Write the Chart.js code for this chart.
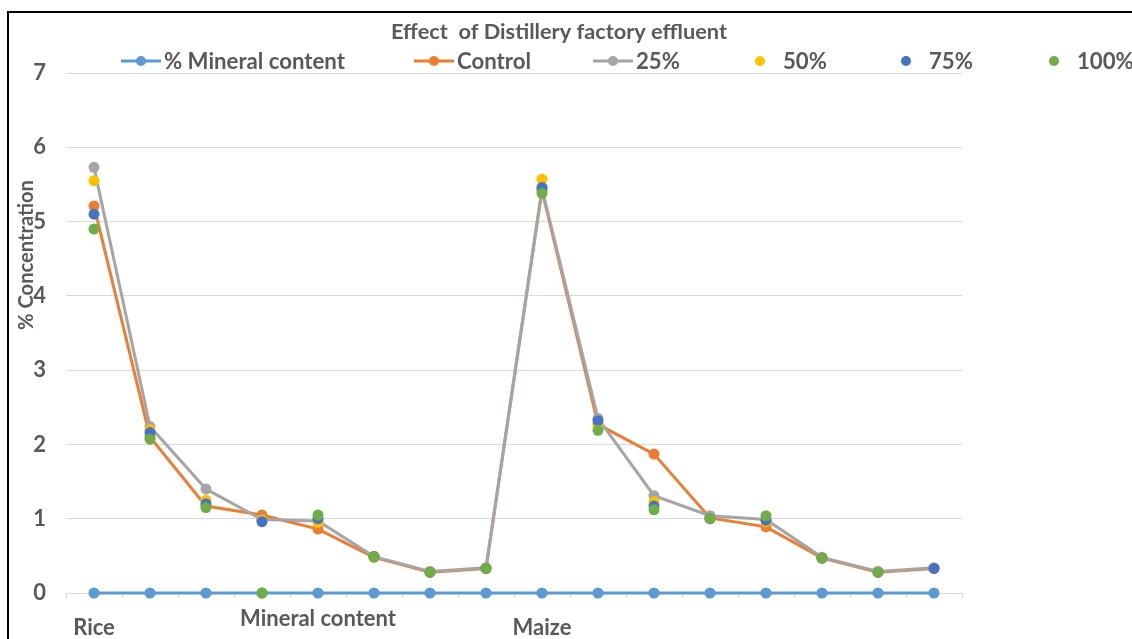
<!DOCTYPE html>
<html><head><meta charset="utf-8">
<script src="https://cdn.jsdelivr.net/npm/chart.js@4.4.1/dist/chart.umd.min.js"></script>
<style>
html,body{margin:0;padding:0;background:#fff;overflow:hidden;}
#wrap{position:relative;width:1132px;height:639px;overflow:hidden;}
#frame{position:absolute;left:7px;top:11px;width:1300px;height:800px;border-left:2px solid #000;border-top:2px solid #000;pointer-events:none;}
canvas{position:absolute;left:0;top:0;}
</style></head><body>
<div id="wrap"><canvas id="c" width="1132" height="639"></canvas><div id="frame"></div></div>
<script>
// ---------- data ----------
const categories = ['Rice','','','','Mineral content','','','','Maize','','','','','','',''];
const seriesNames = ['% Mineral content','Control','25%','50%','75%','100%'];
const mineralContent = [0,0,0,0,0,0,0,0,0,0,0,0,0,0,0,0];
const control = [5.21,2.10,1.17,1.05,0.86,0.48,0.28,0.33,5.42,2.27,1.87,1.01,0.89,0.47,0.28,0.33];
const pct25   = [5.73,2.24,1.40,0.99,0.97,0.49,0.29,0.34,5.44,2.35,1.31,1.04,0.99,0.48,0.29,0.34];
const pct50   = [5.55,2.20,1.25,0.98,0.95,0.49,0.28,0.33,5.57,2.25,1.23,1.00,0.96,0.47,0.28,null];
const pct75   = [5.10,2.16,1.20,0.96,1.00,0.49,0.28,0.33,5.46,2.32,1.17,1.00,0.98,0.47,0.28,0.33];
const pct100  = [4.90,2.07,1.15,0.00,1.05,0.49,0.28,0.33,5.38,2.19,1.12,1.00,1.04,0.47,0.28,null];
const yTickValues = [0,1,2,3,4,5,6,7];
const chartTitle = 'Effect  of Distillery factory effluent';
const yTitle = '% Concentration';
const raisedLabel = 'Mineral content';

// ---------- style ----------
const FONT = 'Lato, "Open Sans", sans-serif';
const TEXT = '#595959';
const GRID = '#d9d9d9';
const colors = ['#5B9BD5','#ED7D31','#A5A5A5','#FFC000','#4472C4','#70AD47'];
const withLine = [true,true,true,false,false,false];

const mctx = document.createElement('canvas').getContext('2d');
function fitSize(text, target){
  mctx.font = 'bold 100px ' + FONT;
  return 100 * target / mctx.measureText(text).width;
}
const axisSize = fitSize('Mineral content', 156);
const titleSize = fitSize(chartTitle, 336);
const legendSize = fitSize('% Mineral content', 181);
const yTitleSize = fitSize(yTitle, 150);

const legendCenters = [141, 434, 613, 760, 906, 1054];

const overlay = {
  id: 'overlay',
  afterDraw(chart){
    const ctx = chart.ctx;
    ctx.save();
    ctx.fillStyle = TEXT;
    ctx.textBaseline = 'middle';
    ctx.textAlign = 'center';
    ctx.font = 'bold ' + titleSize + 'px ' + FONT;
    ctx.fillText(chartTitle, 559, 32);
    // legend
    ctx.textAlign = 'left';
    ctx.font = 'bold ' + legendSize + 'px ' + FONT;
    chart.data.datasets.forEach((ds, i) => {
      const cx = legendCenters[i], cy = 61;
      if (withLine[i]) {
        ctx.strokeStyle = ds.borderColor; ctx.lineWidth = 3; ctx.lineCap = 'butt';
        ctx.beginPath(); ctx.moveTo(cx - 20, cy); ctx.lineTo(cx + 20, cy); ctx.stroke();
      }
      ctx.fillStyle = ds.backgroundColor;
      ctx.beginPath(); ctx.arc(cx, cy, 5, 0, Math.PI * 2); ctx.fill();
      ctx.fillStyle = TEXT;
      ctx.fillText(ds.label, cx + 23, cy + 1);
    });
    // y title
    ctx.translate(26, 255);
    ctx.rotate(-Math.PI / 2);
    ctx.textAlign = 'center';
    ctx.font = 'bold ' + yTitleSize + 'px ' + FONT;
    ctx.fillText(yTitle, 0, 0);
    ctx.restore();
  }
};

const seriesData = [mineralContent, control, pct25, pct50, pct75, pct100];
const datasets = seriesData.map((d, i) => ({
  label: seriesNames[i],
  data: d,
  borderColor: colors[i],
  backgroundColor: colors[i],
  pointBackgroundColor: colors[i],
  pointBorderColor: colors[i],
  pointBorderWidth: 0,
  pointRadius: 5.5,
  pointHoverRadius: 5.5,
  borderWidth: 3,
  showLine: withLine[i],
  tension: 0,
  clip: false,
  order: seriesData.length - i
}));

new Chart(document.getElementById('c'), {
  type: 'line',
  data: { labels: categories, datasets },
  plugins: [overlay],
  options: {
    responsive: false,
    animation: false,
    devicePixelRatio: 1,
    layout: { padding: { left: 0, right: 170, top: 73, bottom: 0 } },
    plugins: { legend: { display: false }, title: { display: false }, tooltip: { enabled: false } },
    scales: {
      x: {
        offset: true,
        afterFit: s => { s.height = 46; },
        grid: { display: true, drawOnChartArea: false, drawTicks: true, tickLength: 5, color: GRID, offset: true },
        border: { display: true, color: GRID },
        ticks: {
          autoSkip: false, maxRotation: 0, minRotation: 0, padding: 8, color: TEXT,
          callback: (v, i) => { const l = categories[i]; return (l && l !== raisedLabel) ? ['', l] : l; },
          font: c => ({ family: FONT, size: axisSize, weight: 'bold',
                        lineHeight: categories[c.index] === raisedLabel ? 1.2 : 0.667 })
        }
      },
      y: {
        min: yTickValues[0], max: yTickValues[yTickValues.length - 1],
        afterFit: s => { s.width = 66; },
        afterBuildTicks: s => { s.ticks = yTickValues.map(v => ({ value: v })); },
        grid: { color: GRID, drawTicks: false },
        border: { display: false },
        ticks: { padding: 20, color: TEXT, font: { family: FONT, size: axisSize, weight: 'bold' } }
      }
    }
  }
});
</script>
</body></html>
